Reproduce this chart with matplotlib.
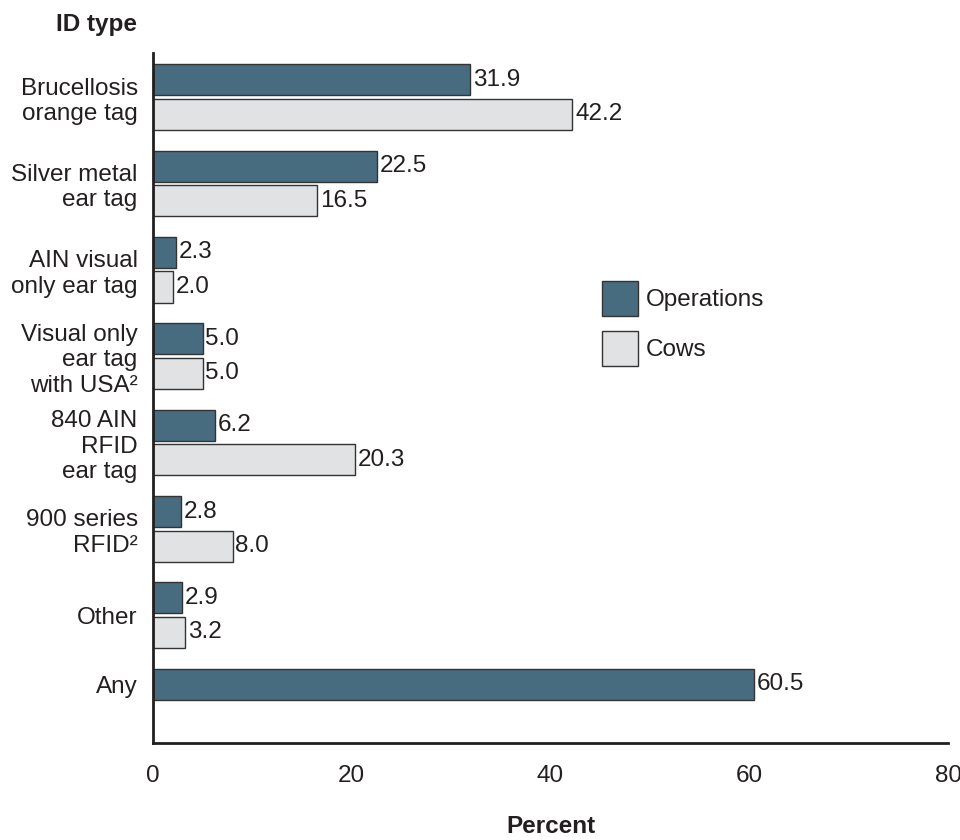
import matplotlib
matplotlib.use("Agg")
import matplotlib.pyplot as plt
import numpy as np

categories = ["Brucellosis\norange tag", "Silver metal\near tag", "AIN visual\nonly ear tag",
              "Visual only\near tag\nwith USA\u00b2", "840 AIN\nRFID\near tag",
              "900 series\nRFID\u00b2", "Other", "Any"]
operations = [31.9, 22.5, 2.3, 5.0, 6.2, 2.8, 2.9, 60.5]
cows = [42.2, 16.5, 2.0, 5.0, 20.3, 8.0, 3.2]
xticks = [0, 20, 40, 60, 80]

plt.rcParams['font.family'] = ['Liberation Sans', 'DejaVu Sans']
TXT = '#231F20'
OPS_C = '#476C80'
COW_C = '#E1E2E4'
EDGE = '#333333'
FS = 17.5

fig = plt.figure(figsize=(9.6, 8.4), dpi=100)
ax = fig.add_axes([153/960, 1-743/840, (948-153)/960, (743-53)/840])

y = np.arange(len(categories))
h = 0.36
b1 = ax.barh(y - 0.2, operations, height=h, color=OPS_C, edgecolor=EDGE, linewidth=1.0, label='Operations')
b2 = ax.barh(y[:len(cows)] + 0.2, cows, height=h, color=COW_C, edgecolor=EDGE, linewidth=1.0, label='Cows')
ax.bar_label(b1, fmt='%.1f', padding=2, fontsize=FS, color=TXT)
ax.bar_label(b2, fmt='%.1f', padding=2, fontsize=FS, color=TXT)

label_pos = [i for i in range(len(categories) - 1)] + [len(categories) - 1 - 0.2]
ax.set_yticks(label_pos)
ax.set_yticklabels(categories, fontsize=FS, color=TXT, ha='right')
ax.tick_params(axis='y', length=0, pad=11)
ax.set_xticks(xticks)
ax.set_xticklabels([str(t) for t in xticks], fontsize=FS, color=TXT)
ax.tick_params(axis='x', length=0, pad=16)
ax.set_xlim(0, 80)
ax.set_ylim(7.48, -0.51)

for s in ['top', 'right']:
    ax.spines[s].set_visible(False)
for s in ['left', 'bottom']:
    ax.spines[s].set_linewidth(2)
    ax.spines[s].set_color(TXT)

ax.set_xlabel('Percent', fontsize=FS, fontweight='bold', color=TXT, labelpad=20)
fig.text(137/960, 1-24/840, 'ID type', fontsize=FS, fontweight='bold', color=TXT, ha='right', va='center')

leg = ax.legend(loc='upper left', bbox_to_anchor=(602/960, 1-281/840), bbox_transform=fig.transFigure,
                frameon=False, fontsize=FS, handlelength=1.48, handleheight=1.84,
                handletextpad=0.33, labelspacing=0.6, borderpad=0, borderaxespad=0)
for t in leg.get_texts():
    t.set_color(TXT)

fig.savefig('out.png', dpi=100)
